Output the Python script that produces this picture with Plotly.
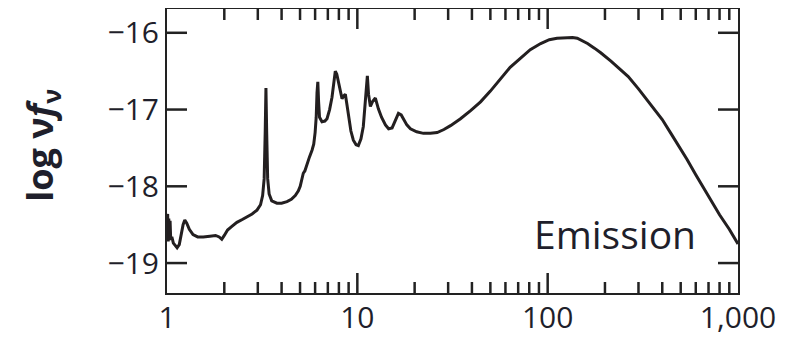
import plotly.graph_objects as go

# wavelength (micron) and log(nu f_nu)
wavelength = [
    1.000, 1.008, 1.015, 1.022, 1.030, 1.038, 1.046, 1.060, 1.080, 1.100,
    1.130, 1.160, 1.190, 1.215, 1.240, 1.270, 1.310, 1.370, 1.45, 1.55,
    1.68, 1.80, 1.88, 1.94, 2.00, 2.08, 2.20, 2.33, 2.50, 2.63,
    2.80, 2.97, 3.10, 3.18, 3.24, 3.28, 3.31, 3.34, 3.38, 3.44,
    3.55, 3.78, 4.00, 4.27, 4.50, 4.72, 4.90, 5.01, 5.10, 5.20,
    5.30, 5.44, 5.60, 5.78, 5.90, 6.00, 6.08, 6.14, 6.20, 6.26,
    6.33, 6.52, 6.75, 6.93, 7.15, 7.36, 7.55, 7.66, 7.80, 7.94,
    8.10, 8.31, 8.50, 8.65, 8.80, 8.97, 9.25, 9.53, 9.85, 10.12,
    10.45, 10.75, 11.00, 11.15, 11.29, 11.45, 11.71, 12.00, 12.44, 12.90,
    13.40, 14.05, 14.60, 15.23, 15.80, 16.44, 17.00, 17.47, 18.20, 19.01,
    20.5, 22.25, 24.2, 26.27, 28.5, 30.87, 34.84, 39.5, 44.4, 50.0,
    56.6, 63.5, 72.1, 81.0, 91.9, 102, 112, 125, 135, 143,
    152, 162, 176, 190, 215, 240, 265, 300, 330, 366,
    400, 444, 490, 540, 600, 652, 720, 800, 900, 1000,
]
log_nufnu = [
    -18.50, -18.36, -18.72, -18.42, -18.68, -18.45, -18.70, -18.66, -18.74, -18.77,
    -18.80, -18.76, -18.62, -18.50, -18.44, -18.48, -18.56, -18.63, -18.66, -18.66,
    -18.65, -18.64, -18.66, -18.69, -18.64, -18.57, -18.52, -18.47, -18.43, -18.40,
    -18.36, -18.31, -18.24, -18.12, -17.90, -17.30, -16.72, -17.30, -17.90, -18.10,
    -18.19, -18.22, -18.22, -18.20, -18.17, -18.12, -18.06, -18.00, -17.90, -17.83,
    -17.80, -17.70, -17.62, -17.53, -17.45, -17.30, -17.10, -16.78, -16.64, -16.90,
    -17.10, -17.16, -17.15, -17.12, -17.00, -16.84, -16.60, -16.50, -16.54, -16.62,
    -16.75, -16.86, -16.82, -16.80, -16.92, -17.05, -17.28, -17.40, -17.46, -17.47,
    -17.38, -17.22, -16.95, -16.70, -16.56, -16.80, -16.96, -16.90, -16.85, -16.99,
    -17.10, -17.20, -17.25, -17.24, -17.14, -17.05, -17.07, -17.12, -17.20, -17.25,
    -17.29, -17.31, -17.31, -17.30, -17.26, -17.21, -17.12, -17.01, -16.90, -16.76,
    -16.60, -16.45, -16.33, -16.22, -16.14, -16.09, -16.07, -16.06, -16.06, -16.07,
    -16.10, -16.14, -16.20, -16.26, -16.37, -16.47, -16.57, -16.73, -16.86, -17.00,
    -17.13, -17.31, -17.48, -17.65, -17.85, -18.00, -18.18, -18.37, -18.56, -18.75,
]

x_tickvals = [1, 10, 100, 1000]
x_ticktext = ["1", "10", "100", "1,000"]
x_minor = [2, 3, 4, 5, 6, 7, 8, 9, 20, 30, 40, 50, 60, 70, 80, 90,
           200, 300, 400, 500, 600, 700, 800, 900]
y_tickvals = [-16, -17, -18, -19]
y_ticktext = ["\u221216", "\u221217", "\u221218", "\u221219"]
x_range_log = [0, 3]
y_range = [-19.39, -15.69]

text_color = "#1f1f2b"
axis_color = "#222222"
major_len = 20
minor_len = 11

W, H = 801, 342
# the page body has an 8 px default margin, so the margins are shifted by 8 px
margin = dict(l=159, r=71, t=1, b=57)
plot_w = W - margin["l"] - margin["r"]
plot_h = H - margin["t"] - margin["b"]
y_per_px = (y_range[1] - y_range[0]) / plot_h
dec_per_px = (x_range_log[1] - x_range_log[0]) / plot_w
x_lo, x_hi = 10 ** x_range_log[0], 10 ** x_range_log[1]

fig = go.Figure()
fig.add_trace(go.Scatter(
    x=wavelength, y=log_nufnu, mode="lines",
    line=dict(color="#231f20", width=3),
    showlegend=False, hoverinfo="skip",
))

# inside tick marks on all four sides, built from the tick values and axis scales
tx, ty = [], []
for vals, length in ((x_tickvals[1:-1], major_len), (x_minor, minor_len)):
    for v in vals:
        tx += [v, v, None, v, v, None]
        ty += [y_range[0], y_range[0] + length * y_per_px, None,
               y_range[1], y_range[1] - length * y_per_px, None]
for v in y_tickvals:
    tx += [x_lo, x_lo * 10 ** (major_len * dec_per_px), None,
           x_hi, x_hi / 10 ** (major_len * dec_per_px), None]
    ty += [v, v, None, v, v, None]
fig.add_trace(go.Scatter(
    x=tx, y=ty, mode="lines", line=dict(color=axis_color, width=2.5),
    showlegend=False, hoverinfo="skip", cliponaxis=False,
))

fig.update_layout(
    template="none",
    width=W, height=H,
    margin=margin,
    paper_bgcolor="white", plot_bgcolor="white",
    font=dict(family="Open Sans", color=text_color),
)

fig.update_xaxes(
    type="log", range=x_range_log,
    tickmode="array", tickvals=x_tickvals, ticktext=x_ticktext,
    ticks="", ticklabelstandoff=-3,
    showline=True, linecolor=axis_color, linewidth=2, mirror=True,
    showgrid=False, zeroline=False,
    tickfont=dict(family="Open Sans", size=30, color=text_color),
)

fig.update_yaxes(
    range=y_range,
    tickmode="array", tickvals=y_tickvals, ticktext=y_ticktext,
    ticks="",
    showline=True, linecolor=axis_color, linewidth=2, mirror=True,
    showgrid=False, zeroline=False,
    tickfont=dict(family="Open Sans", size=30, color=text_color),
)

fig.add_annotation(
    text="<b>log \u03bd<i>f</i><sub>\u03bd</sub></b>",
    xref="paper", yref="paper", x=-0.22, y=0.52,
    xanchor="center", yanchor="middle", textangle=-90, showarrow=False,
    font=dict(family="Open Sans", size=36, color=text_color),
)

fig.add_annotation(
    text="Emission",
    xref="paper", yref="paper", x=0.785, y=0.21,
    xanchor="center", yanchor="middle", showarrow=False,
    font=dict(family="Open Sans", size=39, color=text_color),
)

fig.write_html("out.html")
